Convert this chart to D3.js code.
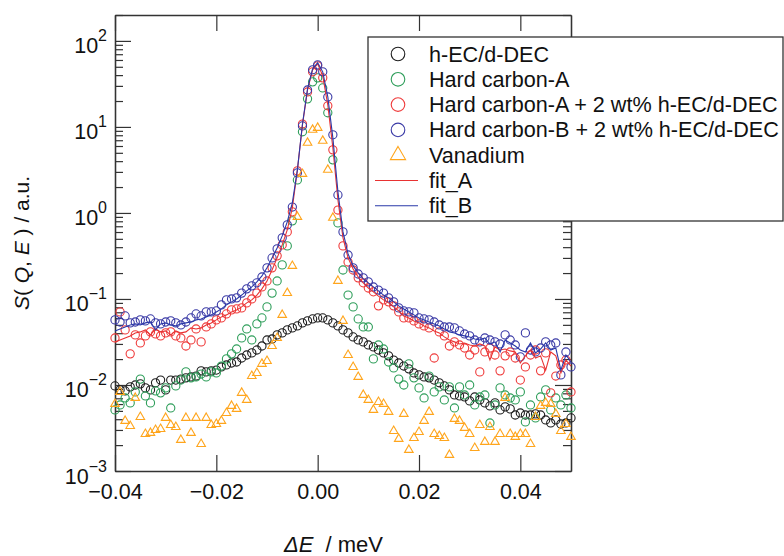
<!DOCTYPE html>
<html>
<head>
<meta charset="utf-8">
<script src="https://cdn.jsdelivr.net/npm/d3@7"></script>
<style>
  body { margin: 0; background: #fff; }
  svg { display: block; font-family: "Liberation Sans", Arial, sans-serif; }
</style>
</head>
<body>
<svg id="chart" width="784" height="556"></svg>
<script>
// energy transfer grid (meV)
const energy = [
  -0.040,-0.039,-0.038,-0.037,-0.036,-0.035,-0.034,-0.033,-0.032,-0.031,
  -0.030,-0.029,-0.028,-0.027,-0.026,-0.025,-0.024,-0.023,-0.022,-0.021,
  -0.020,-0.019,-0.018,-0.017,-0.016,-0.015,-0.014,-0.013,-0.012,-0.011,
  -0.010,-0.009,-0.008,-0.007,-0.006,-0.005,-0.004,-0.003,-0.002,-0.001,
   0.000, 0.001, 0.002, 0.003, 0.004, 0.005, 0.006, 0.007, 0.008, 0.009,
   0.010, 0.011, 0.012, 0.013, 0.014, 0.015, 0.016, 0.017, 0.018, 0.019,
   0.020, 0.021, 0.022, 0.023, 0.024, 0.025, 0.026, 0.027, 0.028, 0.029,
   0.030, 0.031, 0.032, 0.033, 0.034, 0.035, 0.036, 0.037, 0.038, 0.039,
   0.040, 0.041, 0.042, 0.043, 0.044, 0.045, 0.046, 0.047, 0.048, 0.049, 0.050
];

const hEC = [
  0.00975,0.00877,0.00853,0.0095,0.0100,0.0103,0.00925,0.00877,0.0106,0.0114,
  0.00877,0.0114,0.0114,0.0117,0.0121,0.0124,0.0127,0.0146,0.0142,0.0146,
  0.0149,0.0162,0.0171,0.0180,0.0185,0.0206,0.0223,0.0236,0.0255,0.0284,
  0.0334,0.0343,0.0382,0.0403,0.0437,0.0461,0.0486,0.0527,0.0556,0.0586,
  0.0602,0.0602,0.0571,0.0527,0.0486,0.0437,0.0403,0.0362,0.0334,0.0317,
  0.0292,0.0277,0.0255,0.0236,0.0218,0.0195,0.0180,0.0166,0.0154,0.0138,
  0.0131,0.0124,0.0121,0.0114,0.0106,0.00975,0.00877,0.00766,0.00746,0.00726,
  0.00653,0.00726,0.0067,0.00619,0.00571,0.00619,0.00513,0.00556,0.00527,0.00448,
  0.00473,0.00448,0.00448,0.00461,0.00448,0.00392,0.00362,0.00392,0.00352,0.00362,0.00414
];

const hardCarbonA = [
  0.00513,0.00586,0.00707,0.00619,0.00831,0.0117,0.00746,0.00619,0.00853,0.0081,
  0.00925,0.00541,0.00975,0.0114,0.0142,0.0121,0.0124,0.0134,0.0124,0.0142,
  0.0138,0.0166,0.0201,0.0230,0.0262,0.0352,0.0448,0.0334,0.0513,0.0602,
  0.0809,0.117,0.162,0.249,0.414,0.809,2.42,8.77,21.2,33.4,
  37.2,28.4,14.6,4.14,0.766,0.217,0.111,0.0809,0.0586,0.0473,
  0.0473,0.0201,0.0292,0.0262,0.0185,0.0158,0.0117,0.0100,0.0176,0.0121,
  0.00925,0.00707,0.0127,0.00831,0.0095,0.0067,0.0095,0.00541,0.0095,0.00766,
  0.0100,0.00586,0.00726,0.00766,0.00362,0.00586,0.00925,0.00766,0.00707,0.0067,
  0.00831,0.00372,0.00586,0.00414,0.00726,0.00877,0.00513,0.00707,0.00586,0.00766,0.00541
];

const hardCarbonA_EC = [
  0.0352,0.0707,0.0437,0.0230,0.0382,0.0308,0.0372,0.0414,0.0392,0.0372,
  0.0403,0.0414,0.0372,0.0352,0.0284,0.0334,0.0448,0.0317,0.0473,0.0513,
  0.0571,0.0602,0.067,0.0746,0.0766,0.0787,0.090,0.100,0.117,0.138,
  0.162,0.230,0.317,0.425,0.602,1.03,3.08,10.8,25.5,43.7,
  51.3,37.2,17.6,5.41,1.08,0.414,0.269,0.217,0.176,0.154,
  0.134,0.121,0.0831,0.0975,0.0925,0.0831,0.0707,0.0602,0.0602,0.0556,
  0.0513,0.0486,0.0461,0.0206,0.0414,0.0372,0.0284,0.0317,0.0292,0.0269,
  0.0223,0.0255,0.0142,0.0242,0.0269,0.0223,0.0146,0.0218,0.0242,0.0206,
  0.0114,0.0162,0.0223,0.0255,0.0146,0.0236,0.0081,0.0127,0.0171,0.0195,0.0083
];

const hardCarbonB_EC = [
  0.0571,0.054,0.0635,0.0527,0.054,0.0571,0.0556,0.0586,0.0527,0.0513,
  0.054,0.0556,0.0527,0.0499,0.054,0.0602,0.067,0.0635,0.0707,0.0707,
  0.0726,0.0853,0.0975,0.100,0.103,0.117,0.131,0.142,0.154,0.180,
  0.230,0.300,0.382,0.513,0.726,1.17,2.92,10.27,26.9,46.1,
  52.7,43.7,22.3,8.09,1.62,0.602,0.325,0.230,0.195,0.176,
  0.158,0.138,0.127,0.117,0.103,0.0925,0.0787,0.0726,0.0707,0.0689,
  0.0602,0.0586,0.0571,0.054,0.0499,0.0473,0.0473,0.0461,0.0425,0.0392,
  0.0372,0.0334,0.0317,0.0352,0.0334,0.0317,0.030,0.0382,0.0334,0.0292,
  0.0212,0.0403,0.0255,0.0242,0.0269,0.0317,0.0292,0.0308,0.0131,0.0242,0.0162
];

const vanadium = [
  0.00602,0.00831,0.00382,0.00334,0.00707,0.00425,0.00269,0.00277,0.0030,0.00308,
  0.00414,0.00343,0.00325,0.0023,0.00414,0.00277,0.00414,0.00206,0.00414,0.00343,
  0.00352,0.00382,0.00473,0.00571,0.00527,0.0081,0.0067,0.0127,0.0138,0.0176,
  0.0190,0.0284,0.0352,0.0653,0.117,0.242,0.90,2.84,6.53,9.25,
  9.75,6.89,3.17,0.877,0.162,0.0556,0.0223,0.0162,0.0124,0.00766,
  0.0067,0.00513,0.00635,0.00602,0.00486,0.00292,0.00236,0.00461,0.00176,0.00242,
  0.00284,0.00382,0.00486,0.00269,0.00255,0.00242,0.00154,0.00403,0.00382,0.00317,
  0.00269,0.00185,0.00343,0.00218,0.00325,0.00218,0.00269,0.00707,0.00269,0.00249,
  0.00269,0.00269,0.00206,0.00425,0.00571,0.00619,0.00602,0.00461,0.00292,0.00352,0.00249
];

const fitA = [
  0.0317,0.0334,0.0352,0.0372,0.0403,0.0414,0.0437,0.0382,0.0448,0.0414,
  0.0425,0.0382,0.0425,0.0403,0.0414,0.0461,0.0448,0.0461,0.0499,0.0527,
  0.0571,0.0619,0.0653,0.0707,0.0746,0.0809,0.090,0.0975,0.111,0.131,
  0.162,0.217,0.300,0.425,0.635,1.143,3.17,10.55,26.9,46.1,
  54.1,39.2,18.0,5.71,1.42,0.513,0.300,0.223,0.180,0.154,
  0.134,0.121,0.108,0.0975,0.090,0.0809,0.0726,0.0635,0.0602,0.0556,
  0.0527,0.0486,0.0461,0.0425,0.0403,0.0362,0.0334,0.0317,0.030,0.0308,
  0.0292,0.0284,0.030,0.0284,0.0195,0.0277,0.0255,0.0262,0.0249,0.0242,
  0.0180,0.0218,0.0255,0.0206,0.0218,0.0149,0.0242,0.0218,0.0138,0.0195,0.0166
];

const fitB = [
  0.0425,0.0448,0.0473,0.0499,0.0513,0.0499,0.0527,0.054,0.0437,0.0513,
  0.0527,0.0499,0.0486,0.0513,0.0527,0.054,0.0571,0.0586,0.0619,0.0653,
  0.0707,0.0766,0.0853,0.0925,0.100,0.111,0.124,0.138,0.158,0.185,
  0.230,0.300,0.392,0.541,0.787,1.31,3.17,10.8,27.7,47.3,
  55.6,43.7,22.3,7.46,1.76,0.602,0.334,0.242,0.201,0.171,
  0.154,0.138,0.124,0.111,0.103,0.0925,0.0831,0.0766,0.0707,0.0653,
  0.0602,0.0571,0.054,0.0513,0.0486,0.0448,0.0414,0.0403,0.0382,0.0372,
  0.0362,0.0343,0.0334,0.0352,0.030,0.0317,0.0242,0.0334,0.0308,0.0284,
  0.0255,0.0242,0.0308,0.0236,0.0262,0.0308,0.0255,0.0269,0.0149,0.0223,0.0185
];

const xTicks = [-0.04, -0.02, 0, 0.02, 0.04];
const yMajor = [1e-3, 1e-2, 1e-1, 1, 10, 100];
const yExp = ["\u22123", "\u22122", "\u22121", "0", "1", "2"];

const markerSeries = [
  { name: "h-EC/d-DEC", values: hEC, color: "#1e1e1e", shape: "circle" },
  { name: "Hard carbon-A", values: hardCarbonA, color: "#2e9e5a", shape: "circle" },
  { name: "Hard carbon-A + 2 wt% h-EC/d-DEC", values: hardCarbonA_EC, color: "#ef3b3b", shape: "circle" },
  { name: "Hard carbon-B + 2 wt% h-EC/d-DEC", values: hardCarbonB_EC, color: "#3a3aa6", shape: "circle" },
  { name: "Vanadium", values: vanadium, color: "#ffa51c", shape: "triangle" }
];
const lineSeries = [
  { name: "fit_A", values: fitA, color: "#e83232" },
  { name: "fit_B", values: fitB, color: "#2a38a8" }
];

const svg = d3.select("#chart");
const frame = "#333";

const x = d3.scaleLinear().domain([-0.04, 0.05]).range([115, 571]);
const y = d3.scaleLog().domain([1e-3, 200]).range([471, 15]);
const yMinor = y.ticks().filter(v => !yMajor.some(m => Math.abs(v - m) / m < 1e-6));

// axes (ticks point inward on all four sides)
function styleAxis(g) {
  g.selectAll(".domain").attr("stroke", frame).attr("stroke-width", 1.3);
  g.selectAll(".tick line").attr("stroke", frame).attr("stroke-width", 1.2);
}

const gx = svg.append("g").attr("transform", "translate(0,471)")
  .call(d3.axisBottom(x).tickValues(xTicks).tickSize(-16).tickSizeOuter(0)
    .tickPadding(13).tickFormat(d3.format(".2f")))
  .call(styleAxis);
gx.selectAll(".tick text").attr("font-size", 21.5).attr("fill", "#111")
  .attr("font-family", "Liberation Sans, Arial, sans-serif");

svg.append("g").attr("transform", "translate(0,15)")
  .call(d3.axisTop(x).tickValues(xTicks).tickSize(-16).tickSizeOuter(0).tickFormat(""))
  .call(styleAxis);

svg.append("g").attr("transform", "translate(115,0)")
  .call(d3.axisLeft(y).tickValues(yMajor).tickSize(-16).tickSizeOuter(0).tickFormat(""))
  .call(styleAxis);
svg.append("g").attr("transform", "translate(115,0)")
  .call(d3.axisLeft(y).tickValues(yMinor).tickSize(-8).tickSizeOuter(0).tickFormat(""))
  .call(styleAxis);
svg.append("g").attr("transform", "translate(571,0)")
  .call(d3.axisRight(y).tickValues(yMajor).tickSize(-16).tickSizeOuter(0).tickFormat(""))
  .call(styleAxis);
svg.append("g").attr("transform", "translate(571,0)")
  .call(d3.axisRight(y).tickValues(yMinor).tickSize(-8).tickSizeOuter(0).tickFormat(""))
  .call(styleAxis);

// y tick labels as 10^n
const ylab = svg.append("g").attr("fill", "#111");
yMajor.forEach((v, i) => {
  const t = ylab.append("text").attr("x", 107).attr("y", y(v) + 12.5)
    .attr("text-anchor", "end").attr("font-size", 21.5);
  t.append("tspan").text("10");
  t.append("tspan").attr("dy", -12).attr("font-size", 16).text(yExp[i]);
});

// axis titles
const xt = svg.append("text").attr("x", 284).attr("y", 552)
  .attr("font-size", 22).attr("fill", "#111");
xt.append("tspan").attr("font-style", "italic").text("\u0394E");
xt.append("tspan").attr("dx", 6).text(" / meV");

const yt = svg.append("text").attr("transform", "translate(29,243) rotate(-90)")
  .attr("text-anchor", "middle").attr("font-size", 21).attr("fill", "#111");
yt.append("tspan").attr("font-style", "italic").text("S");
yt.append("tspan").text("( ");
yt.append("tspan").attr("font-style", "italic").text("Q");
yt.append("tspan").text(", ");
yt.append("tspan").attr("font-style", "italic").text("E");
yt.append("tspan").text(" ) / a.u.");

// data markers
const tri = d3.symbol().type(d3.symbolTriangle).size(32);
markerSeries.forEach(s => {
  const pts = energy.map((e, i) => [e, s.values[i]]);
  const g = svg.append("g").attr("fill", "none").attr("stroke", s.color).attr("stroke-width", 1.1);
  if (s.shape === "circle") {
    g.selectAll("circle").data(pts).join("circle")
      .attr("cx", d => x(d[0])).attr("cy", d => y(d[1])).attr("r", 4.1);
  } else {
    g.selectAll("path").data(pts).join("path")
      .attr("d", tri).attr("transform", d => `translate(${x(d[0])},${y(d[1])})`);
  }
});

// fit lines
const line = d3.line().x(d => x(d[0])).y(d => y(d[1]));
lineSeries.forEach(s => {
  svg.append("path").datum(energy.map((e, i) => [e, s.values[i]]))
    .attr("d", line).attr("fill", "none").attr("stroke", s.color).attr("stroke-width", 1.1);
});

// legend
const lg = svg.append("g");
lg.append("rect").attr("x", 368).attr("y", 37).attr("width", 415).attr("height", 184)
  .attr("fill", "#fff").attr("stroke", frame).attr("stroke-width", 1.3);
const rowY = i => 54 + i * 25.3;
const bigTri = d3.symbol().type(d3.symbolTriangle).size(100);
markerSeries.forEach((s, i) => {
  if (s.shape === "circle") {
    lg.append("circle").attr("cx", 398).attr("cy", rowY(i)).attr("r", 6.8)
      .attr("fill", "none").attr("stroke", s.color).attr("stroke-width", 1.1);
  } else {
    lg.append("path").attr("d", bigTri).attr("transform", `translate(398,${rowY(i)})`)
      .attr("fill", "none").attr("stroke", s.color).attr("stroke-width", 1.1);
  }
  lg.append("text").attr("x", 429).attr("y", rowY(i) + 7.5).attr("font-size", 21.6)
    .attr("fill", "#111").text(s.name);
});
lineSeries.forEach((s, j) => {
  const i = markerSeries.length + j;
  lg.append("line").attr("x1", 375).attr("x2", 418).attr("y1", rowY(i)).attr("y2", rowY(i))
    .attr("stroke", s.color).attr("stroke-width", 1.1);
  lg.append("text").attr("x", 429).attr("y", rowY(i) + 7.5).attr("font-size", 21.6)
    .attr("fill", "#111").text(s.name);
});
</script>
</body>
</html>
